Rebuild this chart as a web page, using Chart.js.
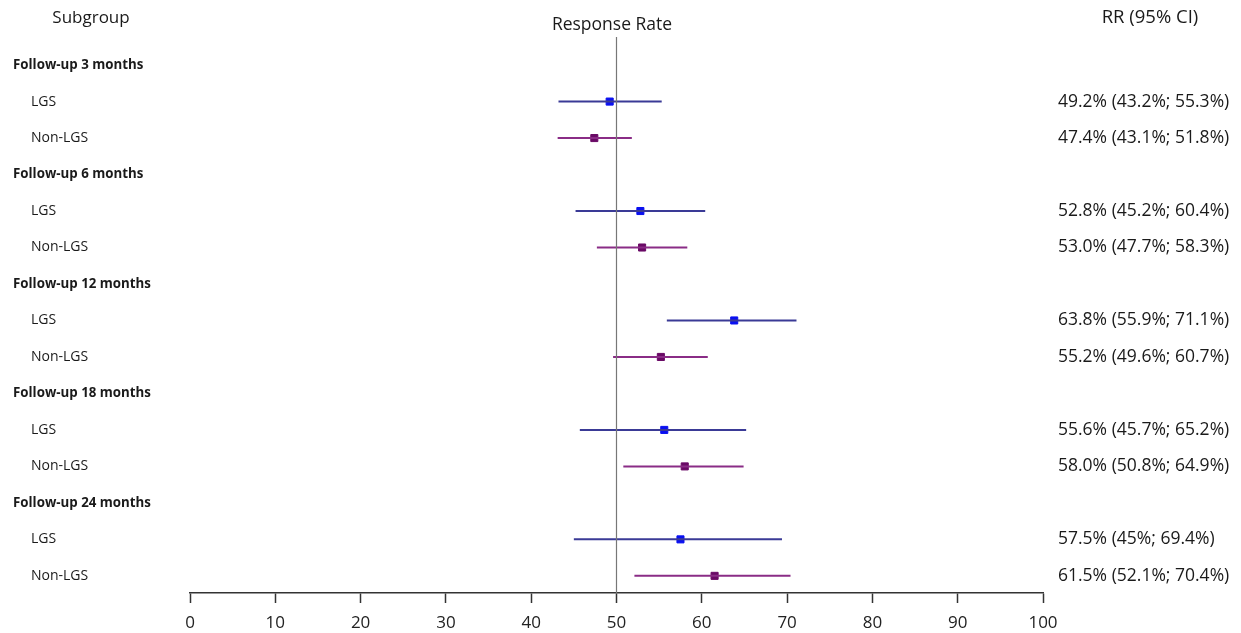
<!DOCTYPE html>
<html>
<head>
<meta charset="utf-8">
<script src="https://cdn.jsdelivr.net/npm/chart.js@4/dist/chart.umd.min.js"></script>
<style>
  html, body { margin: 0; padding: 0; background: #fff; }
  #wrap { width: 1241px; height: 633px; position: relative; }
</style>
</head>
<body>
<div id="wrap"><canvas id="forest"></canvas></div>
<script>
'use strict';

// follow-up groups (row headers)
const groups = ['Follow-up 3 months', 'Follow-up 6 months', 'Follow-up 12 months', 'Follow-up 18 months', 'Follow-up 24 months'];
const subgroups = ['LGS', 'Non-LGS'];

// response rate and 95% CI, one value per follow-up group
const lgsRate = [49.2, 52.8, 63.8, 55.6, 57.5];
const lgsLow = [43.2, 45.2, 55.9, 45.7, 45];
const lgsHigh = [55.3, 60.4, 71.1, 65.2, 69.4];

const nonRate = [47.4, 53.0, 55.2, 58.0, 61.5];
const nonLow = [43.1, 47.7, 49.6, 50.8, 52.1];
const nonHigh = [51.8, 58.3, 60.7, 64.9, 70.4];

const xTicks = [0, 10, 20, 30, 40, 50, 60, 70, 80, 90, 100];
const refValue = 50;

const fontName = '"Open Sans", "DejaVu Sans", sans-serif';

// every group takes 3 rows: header, LGS, Non-LGS
function rowOf(g, s) { return g * 3 + 1 + s; }

const yMin = -0.77;
const yMax = 14.47;

function fmt(v) { return v + '%'; }
function ciText(r, l, h) { return fmt(r.toFixed(1)) + ' (' + fmt(l) + '; ' + fmt(h.toFixed(1)) + ')'; }

const datasets = [];

// reference line at 50
datasets.push({
  type: 'line',
  data: [{x: refValue, y: yMin}, {x: refValue, y: yMax}],
  borderColor: '#777',
  borderWidth: 1.2,
  pointRadius: 0
});

const series = [
  {rate: lgsRate, low: lgsLow, high: lgsHigh, line: '#3a3a96', mark: '#0a10f0', s: 0},
  {rate: nonRate, low: nonLow, high: nonHigh, line: '#8a2c86', mark: '#6a0a66', s: 1}
];

series.forEach(function (sr) {
  for (let g = 0; g < groups.length; g++) {
    datasets.push({
      type: 'line',
      data: [{x: sr.low[g], y: rowOf(g, sr.s)}, {x: sr.high[g], y: rowOf(g, sr.s)}],
      borderColor: sr.line,
      borderWidth: 2,
      pointRadius: 0
    });
  }
});

series.forEach(function (sr) {
  datasets.push({
    type: 'scatter',
    data: sr.rate.map(function (v, g) { return {x: v, y: rowOf(g, sr.s)}; }),
    backgroundColor: sr.mark,
    borderColor: sr.mark,
    pointStyle: 'rect',
    pointRadius: 5,
    pointHoverRadius: 5
  });
});

// left and right text columns
const textPlugin = {
  id: 'forestText',
  afterDraw(chart) {
    const ctx = chart.ctx;
    const y = chart.scales.y;
    ctx.save();
    ctx.fillStyle = '#1a1a1a';
    ctx.textBaseline = 'middle';

    ctx.textAlign = 'center';
    ctx.font = '17px ' + fontName;
    ctx.fillText('Subgroup', 91, 18);
    ctx.font = '17.5px ' + fontName;
    ctx.fillText('Response Rate', 612, 25);
    ctx.font = '18.5px ' + fontName;
    ctx.fillText('RR (95% CI)', 1150, 18);

    for (let g = 0; g < groups.length; g++) {
      ctx.textAlign = 'left';
      ctx.font = 'bold 13.3px ' + fontName;
      ctx.fillText(groups[g], 13, y.getPixelForValue(g * 3));
      ctx.font = '14px ' + fontName;
      subgroups.forEach(function (name, s) {
        ctx.fillText(name, 31, y.getPixelForValue(rowOf(g, s)));
      });
      ctx.font = '17.5px ' + fontName;
      ctx.fillText(ciText(lgsRate[g], lgsLow[g], lgsHigh[g]), 1058, y.getPixelForValue(rowOf(g, 0)));
      ctx.fillText(ciText(nonRate[g], nonLow[g], nonHigh[g]), 1058, y.getPixelForValue(rowOf(g, 1)));
    }
    ctx.restore();
  }
};

new Chart(document.getElementById('forest'), {
  type: 'scatter',
  data: {datasets: datasets},
  plugins: [textPlugin],
  options: {
    responsive: true,
    maintainAspectRatio: false,
    animation: false,
    layout: {padding: {left: 190, right: 198, top: 37, bottom: 0}},
    plugins: {legend: {display: false}, tooltip: {enabled: false}},
    scales: {
      x: {
        type: 'linear',
        min: 0,
        max: 100,
        afterBuildTicks(scale) { scale.ticks = xTicks.map(function (v) { return {value: v}; }); },
        afterFit(scale) { scale.height = 40; },
        grid: {drawOnChartArea: false, tickLength: 10, color: '#333', tickWidth: 1.5},
        border: {color: '#333', width: 1.5},
        ticks: {color: '#222', font: {family: fontName, size: 17}, padding: 10, maxRotation: 0}
      },
      y: {
        type: 'linear',
        min: yMin,
        max: yMax,
        reverse: true,
        display: false
      }
    }
  }
});
</script>
</body>
</html>
